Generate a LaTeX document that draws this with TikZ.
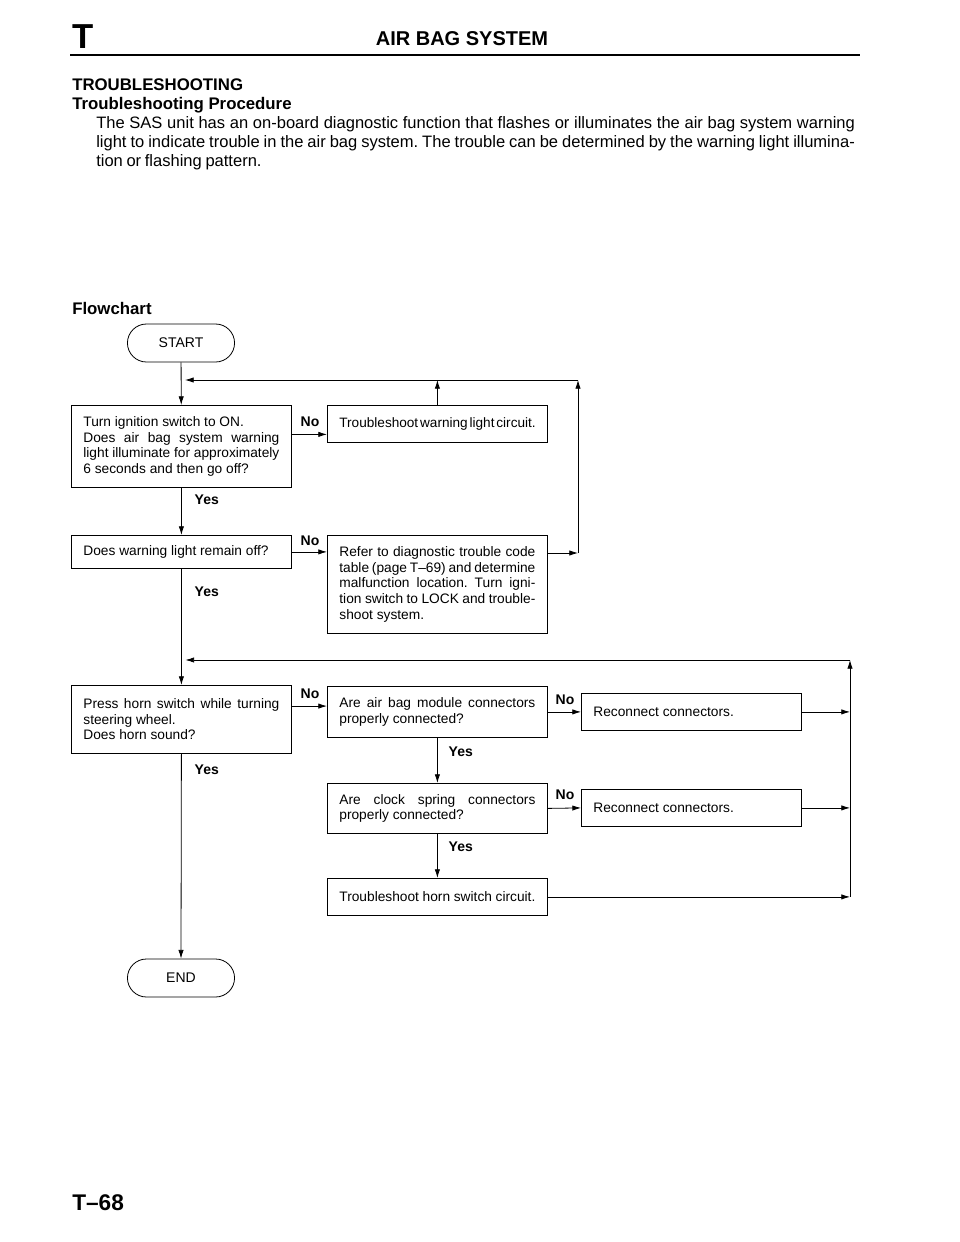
\documentclass[tikz,border=0pt]{standalone}
\usepackage{fontspec}
\setmainfont{Liberation Sans}
\usetikzlibrary{arrows.meta,shapes.misc}
\frenchspacing

\newcommand\boxfont{\fontsize{10.3}{11.7}\selectfont}
\newcommand\lblfont{\bfseries\fontsize{10.5}{12}\selectfont}

\tikzset{
  stepbox/.style={draw, line width=0.6pt, anchor=north west, text width=147pt,
    inner xsep=9pt, inner ysep=0pt, align=justify, font=\boxfont},
  termbox/.style={draw, line width=0.6pt, rounded rectangle, minimum width=87pt,
    minimum height=28.5pt, font=\fontsize{10.5}{12}\selectfont},
  flow/.style={line width=0.6pt, -{Latex[length=6.5pt,width=4pt]}},
  yes/.style={anchor=west, font=\lblfont},
}

\begin{document}
\begin{tikzpicture}[x=0.75pt, y=-0.75pt]
  \useasboundingbox[fill=white] (0,0) rectangle (960,1242);

  %--- page head
  \node[anchor=base west, inner sep=0, font=\bfseries\fontsize{26}{26}\selectfont] (tab) at (72,48) {T};
  \node[anchor=base, inner sep=0, font=\bfseries\fontsize{15}{15}\selectfont] (title) at (462,45) {AIR BAG SYSTEM};
  \draw[line width=1.5pt] (70,55) -- (860,55);

  \node[anchor=base west, inner sep=0, font=\bfseries\fontsize{12.6}{12.6}\selectfont] (sect) at (72,90) {TROUBLESHOOTING};
  \node[anchor=base west, inner sep=0, font=\bfseries\fontsize{12.6}{12.6}\selectfont] (sub) at (72,109) {Troubleshooting Procedure};
  \node[anchor=north west, inner sep=0, text width=569pt, align=justify,
        font=\fontsize{12.4}{14.25}\selectfont] (intro) at (96,116)
    {\hyphenpenalty=10000\exhyphenpenalty=10000\spaceskip=0.22em plus 1em minus 0.03em\relax
     The SAS unit has an on-board diagnostic function that flashes or illuminates the air bag system warning\linebreak
     light to indicate trouble in the air bag system. The trouble can be determined by the warning light illumina-\linebreak
     tion or flashing pattern.};

  \node[anchor=base west, inner sep=0, font=\bfseries\fontsize{12.6}{12.6}\selectfont] (fc) at (72,314) {Flowchart};

  %--- boxes
  \node[termbox] (start) at (181,343) {START};
  \node[stepbox, minimum height=61.5pt] (ign) at (71,405)
    {Turn ignition switch to ON.\\ Does air bag system warning\linebreak
     light illuminate for approximately\linebreak 6 seconds and then go off?};
  \node[stepbox, minimum height=27.75pt, align=left] (lamp) at (327,405)
    {\mbox{\fontsize{10.2}{11.6}\selectfont\spaceskip=1.4pt Troubleshoot warning light circuit.}};
  \node[stepbox, minimum height=24.75pt] (off) at (71,535) {Does warning light remain off?};
  \node[stepbox, minimum height=73.5pt] (dtc) at (327,535)
    {Refer to diagnostic trouble code\linebreak table (page T--69) and determine\linebreak
     malfunction location. Turn igni-\linebreak tion switch to LOCK and trouble-\linebreak shoot system.};
  \node[stepbox, minimum height=51pt] (horn) at (71,685)
    {Press horn switch while turning\linebreak steering wheel.\\ Does horn sound?};
  \node[stepbox, minimum height=38.25pt] (abm) at (327,686)
    {Are air bag module connectors\linebreak properly connected?};
  \node[stepbox, minimum height=27.75pt] (recA) at (581,693) {Reconnect connectors.};
  \node[stepbox, minimum height=37.5pt] (clk) at (327,783)
    {Are clock spring connectors\linebreak properly connected?};
  \node[stepbox, minimum height=27.75pt] (recB) at (581,789) {Reconnect connectors.};
  \node[stepbox, minimum height=27.75pt] (hsw) at (327,878) {Troubleshoot horn switch circuit.};
  \node[termbox] (end) at (181,978) {END};

  %--- return points
  \coordinate (upR) at (578,380);
  \coordinate (upB) at (578,553);
  \coordinate (loR) at (850,660);

  %--- connectors
  \draw[flow] (start) -- (ign);
  \draw[flow] ([yshift=9pt]ign.east) -- ([yshift=9pt]ign.east -| lamp.west);
  \draw[flow] (lamp.north) -- (lamp.north |- upR);
  \draw[flow] (ign.south) -- (off.north);
  \draw[flow] (off.east) -- (off.east -| dtc.west);
  \draw[flow] (upB -| dtc.east) -- (upB);
  \draw[flow] (upB) -- (upR);
  \draw[flow] (upR) -- ([xshift=3pt]upR -| start.south);
  \draw[flow] (off.south) -- (horn.north);
  \draw[flow] ([yshift=10pt]horn.east) -- ([yshift=10pt]horn.east -| abm.west);
  \draw[flow] (abm.east) -- (recA.west);
  \draw[flow] (abm.south) -- (clk.north);
  \draw[flow] (clk.east) -- (recB.west);
  \draw[flow] (clk.south) -- (hsw.north);
  \draw[flow] (recA.east) -- (recA.east -| loR);
  \draw[flow] (recB.east) -- (recB.east -| loR);
  \draw[flow] (hsw.east) -- (hsw.east -| loR);
  \draw[flow] (hsw.east -| loR) -- (loR);
  \draw[flow] (loR) -- ([xshift=3pt]loR -| horn.north);
  \draw[flow] (horn.south) -- (end.north);

  %--- answers
  \node[yes] (y1) at (190,500) {Yes};
  \node[yes] (y2) at (190,592) {Yes};
  \node[yes] (y3) at (190,770) {Yes};
  \node[yes] (y4) at (444,752) {Yes};
  \node[yes] (y5) at (444,847) {Yes};
  \node[yes] (n1) at (296,422) {No};
  \node[yes] (n2) at (296,541) {No};
  \node[yes] (n3) at (296,694) {No};
  \node[yes] (n4) at (551,700) {No};
  \node[yes] (n5) at (551,795) {No};

  %--- page number
  \node[anchor=base west, inner sep=0, font=\bfseries\fontsize{17}{17}\selectfont] (page) at (72,1210) {T--68};
\end{tikzpicture}
\end{document}
